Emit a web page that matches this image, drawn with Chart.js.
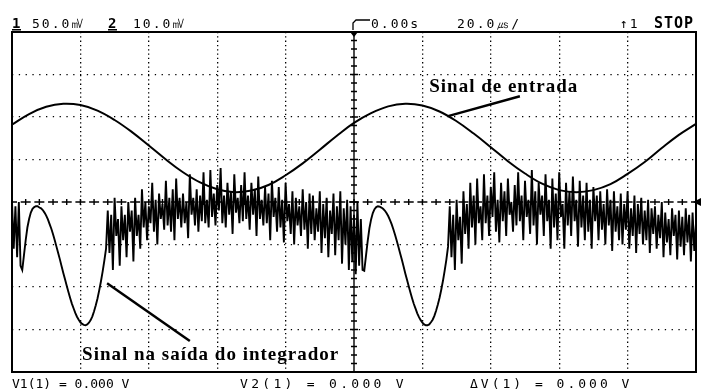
<!DOCTYPE html>
<html>
<head>
<meta charset="utf-8">
<script src="https://cdn.jsdelivr.net/npm/chart.js@4/dist/chart.umd.min.js"></script>
<style>
  html, body { margin: 0; padding: 0; background: #fff; }
  canvas { display: block; }
</style>
</head>
<body>
<canvas id="scope" width="704" height="390"></canvas>
<script>
/* scope capture: integrator input (ch1) and output (ch2), 20 us/div, values in divisions */

var T_START = -100;   // us at left edge
var T_END = 100;      // us at right edge
var DIV_US = 20;      // us per division
var CH1_DT = 5;       // us between ch1 samples
var CH2_DT = 0.5;     // us between ch2 samples

/* ch1 - Sinal de entrada */
var ch1 = [
  1.82, 2.07, 2.24, 2.31, 2.28, 2.15, 1.93, 1.65, 1.33, 1.00,
  0.70, 0.46, 0.30, 0.23, 0.27, 0.40, 0.63, 0.91, 1.23, 1.56,
  1.86, 2.09, 2.25, 2.31, 2.27, 2.13, 1.90, 1.61, 1.29, 0.96,
  0.67, 0.43, 0.28, 0.23, 0.28, 0.42, 0.66, 0.94, 1.27, 1.58,
  1.84
];

/* ch2 - Sinal na saida do integrador */
var ch2 = [
  /* leading noise */
  0.0, -1.1, -0.1, -1.3, 0.0, -1.5,
  /* first clean swing */
  -1.6, -1.25, -0.9, -0.6, -0.4, -0.25, -0.16, -0.12, -0.1, -0.1,
  -0.13, -0.15, -0.19, -0.25, -0.32, -0.41, -0.52, -0.63, -0.76, -0.9,
  -1.05, -1.2, -1.35, -1.51, -1.67, -1.82, -1.97, -2.12, -2.26, -2.39,
  -2.5, -2.61, -2.7, -2.77, -2.83, -2.87, -2.89, -2.9, -2.88, -2.84,
  -2.78, -2.69, -2.57, -2.43, -2.27, -2.08, -1.87, -1.64, -1.38, -1.1,
  /* first noisy stretch */
  -0.2, -1.2, -0.3, -1.6, 0.1, -0.8, -0.4, -1.5, -0.1, -0.9, -0.3, -1.3, 0.0, -0.7, -0.2, -1.4, 0.1, -0.8, -0.3, -1.1,
  0.3, -0.6, 0.0, -0.9, -0.1, -0.5, 0.45, -0.7, 0.05, -1.0, 0.2, -0.4, -0.05, -0.65, 0.5, -0.55, 0.1, -0.7, 0.3, -0.9,
  0.55, -0.4, 0.1, -0.6, 0.2, -0.5, 0.0, -0.85, 0.65, -0.3, 0.1, -0.55, 0.3, -0.7, 0.15, -0.45, 0.7, -0.5, 0.05, -0.6,
  0.75, -0.35, 0.2, -0.55, 0.4, -0.2, 0.8, -0.5, 0.15, -0.6, 0.45, -0.3, 0.25, -0.75, 0.65, -0.25, 0.1, -0.5, 0.4, -0.45,
  0.7, -0.4, 0.15, -0.65, 0.45, -0.3, 0.3, -0.8, 0.6, -0.4, 0.05, -0.55, 0.35, -0.5, 0.2, -0.9, 0.5, -0.35, 0.1, -0.7,
  0.35, -0.6, 0.05, -0.95, 0.45, -0.45, -0.05, -0.75, 0.25, -1.0, 0.1, -0.55, -0.1, -0.8, 0.3, -0.65, 0.0, -1.1, 0.2, -0.75,
  0.15, -0.9, -0.15, -0.7, 0.25, -1.2, -0.05, -0.85, 0.1, -1.3, -0.2, -0.75, 0.2, -1.25, -0.1, -0.9, 0.25, -1.45, -0.15, -1.0, 0.05, -1.6, -0.1, -1.4,
  /* noise at trigger point */
  -0.3, -1.7, 0.0, -1.5, -0.4, -1.6,
  /* second clean swing */
  -1.62, -1.27, -0.92, -0.62, -0.41, -0.26, -0.17, -0.12, -0.1, -0.11,
  -0.13, -0.16, -0.2, -0.26, -0.33, -0.42, -0.52, -0.64, -0.77, -0.91,
  -1.06, -1.21, -1.36, -1.52, -1.68, -1.83, -1.98, -2.13, -2.27, -2.4,
  -2.51, -2.62, -2.71, -2.78, -2.84, -2.88, -2.9, -2.9, -2.88, -2.83,
  -2.77, -2.68, -2.56, -2.42, -2.26, -2.07, -1.86, -1.62, -1.36, -1.05,
  /* second noisy stretch */
  -0.1, -1.3, -0.3, -1.6, 0.05, -0.9, -0.35, -1.45, 0.25, -0.75, -0.05, -1.1, 0.45, -0.6, 0.15, -1.0, 0.55, -0.5, -0.1, -0.9,
  0.65, -0.5, 0.15, -0.8, 0.35, -0.35, 0.7, -0.7, 0.05, -0.95, 0.45, -0.45, 0.25, -0.8, 0.55, -0.3, 0.0, -0.7, 0.4, -0.55,
  0.7, -0.45, 0.15, -0.9, 0.5, -0.35, 0.05, -0.75, 0.75, -0.55, 0.25, -1.0, 0.45, -0.3, 0.15, -0.8, 0.65, -0.45, 0.05, -1.1,
  0.55, -0.6, 0.2, -0.9, 0.7, -0.35, -0.05, -1.1, 0.45, -0.55, 0.25, -0.8, 0.6, -0.45, 0.05, -1.05, 0.5, -0.6, 0.15, -0.9,
  0.45, -0.7, 0.05, -1.1, 0.35, -0.45, 0.15, -0.9, 0.25, -0.65, -0.05, -1.0, 0.3, -0.55, 0.05, -1.15, 0.25, -0.7, -0.1, -0.9,
  0.2, -1.0, -0.05, -0.65, 0.25, -1.1, -0.15, -0.8, 0.15, -1.2, -0.05, -0.75, 0.1, -1.0, -0.2, -0.9, 0.05, -1.2, -0.15, -0.75,
  -0.1, -1.1, -0.3, -0.85, 0.0, -1.3, -0.25, -0.95, -0.4, -1.25, -0.15, -0.8, -0.3, -1.35, -0.2, -1.05, -0.35, -1.25, -0.15, -0.95, -0.3, -1.4, -0.25, -1.15, -0.5
];

/* screen readouts */
var topLeft = [['1', '50.0\u33B7'], ['2', '10.0\u33B7']];
var topMid = ['0.00s', '20.0\u33B2/'];
var topRight = ['\u21911', 'STOP'];
var bottomRow = ['V1(1) = 0.000 V', 'V2(1) = 0.000 V', '\u0394V(1) = 0.000 V'];

/* callouts: text anchor and pointer, in (us, div) */
var inLabel = { text: 'Sinal de entrada', t: 22, v: 2.59, from: [27.5, 2.02], to: [48.5, 2.49] };
var outLabel = { text: 'Sinal na saída do integrador', t: -79.5, v: -3.71, from: [-72.2, -1.91], to: [-48, -3.27] };

function series(values, dt) {
  return values.map(function (v, i) { return { x: T_START + i * dt, y: v }; });
}

var scopeDecor = {
  id: 'scopeDecor',
  beforeDatasetsDraw: function (chart) {
    var ctx = chart.ctx, a = chart.chartArea;
    var xs = chart.scales.x, ys = chart.scales.y;
    var cx = xs.getPixelForValue(0), cy = ys.getPixelForValue(0);
    var minorX = xs.getPixelForValue(DIV_US / 5) - xs.getPixelForValue(0);
    ctx.save();
    ctx.strokeStyle = '#000';

    // horizontal centre axis, broken line with ticks
    ctx.lineWidth = 1.4;
    ctx.setLineDash([10, minorX - 10]);
    ctx.lineDashOffset = 5;
    ctx.beginPath(); ctx.moveTo(a.left, cy); ctx.lineTo(a.right, cy); ctx.stroke();
    ctx.setLineDash([]);
    ctx.beginPath();
    for (var i = 0; i <= 50; i++) {
      var px = xs.getPixelForValue(T_START + i * DIV_US / 5);
      ctx.moveTo(px, cy - 3); ctx.lineTo(px, cy + 3);
    }
    ctx.stroke();

    // vertical centre axis with ticks
    ctx.beginPath(); ctx.moveTo(cx, a.top); ctx.lineTo(cx, a.bottom); ctx.stroke();
    ctx.beginPath();
    for (var j = 0; j <= 40; j++) {
      var py = ys.getPixelForValue(-4 + j * 0.2);
      var w = (j % 5 === 0) ? 4 : 3;
      ctx.moveTo(cx - w, py); ctx.lineTo(cx + w, py);
    }
    ctx.stroke();

    // frame
    ctx.lineWidth = 2;
    ctx.strokeRect(a.left, a.top, a.right - a.left, a.bottom - a.top);

    // trigger and ground markers
    ctx.fillStyle = '#000';
    ctx.beginPath(); ctx.moveTo(cx - 4, a.top); ctx.lineTo(cx + 4, a.top); ctx.lineTo(cx, a.top + 5); ctx.fill();
    ctx.beginPath(); ctx.moveTo(a.right - 3, cy); ctx.lineTo(a.right + 5, cy - 4); ctx.lineTo(a.right + 5, cy + 4); ctx.fill();

    // trigger delay hook above the screen
    ctx.lineWidth = 1.3;
    ctx.beginPath(); ctx.moveTo(cx - 1, a.top - 2); ctx.lineTo(cx - 1, 23); ctx.lineTo(cx + 2, 20); ctx.lineTo(cx + 16, 20); ctx.stroke();
    ctx.restore();
  },
  afterDraw: function (chart) {
    var ctx = chart.ctx;
    var xs = chart.scales.x, ys = chart.scales.y;
    ctx.save();
    ctx.fillStyle = '#000';
    ctx.strokeStyle = '#000';
    ctx.textBaseline = 'alphabetic';

    // readouts
    var tx = [[12, 32], [108, 133]];
    topLeft.forEach(function (p, k) {
      ctx.letterSpacing = '0px';
      ctx.font = 'bold 14px "DejaVu Sans Mono", monospace';
      ctx.fillText(p[0], tx[k][0], 28);
      ctx.fillRect(tx[k][0], 29, 9, 1.5);
      ctx.letterSpacing = '2px';
      ctx.font = '13px "DejaVu Sans Mono", monospace';
      ctx.fillText(p[1], tx[k][1], 28);
    });
    ctx.fillText(topMid[0], 371, 28);
    ctx.fillText(topMid[1], 457, 28);
    ctx.fillText(topRight[0], 620, 28);
    ctx.font = 'bold 15px "DejaVu Sans Mono", monospace';
    ctx.letterSpacing = '1px';
    ctx.fillText(topRight[1], 654, 28);

    ctx.font = '13px "DejaVu Sans Mono", monospace';
    ctx.letterSpacing = '0px';
    ctx.fillText(bottomRow[0], 12, 388);
    ctx.letterSpacing = '3.3px';
    ctx.fillText(bottomRow[1], 240, 388);
    ctx.letterSpacing = '3px';
    ctx.fillText(bottomRow[2], 470, 388);

    // callouts
    ctx.letterSpacing = '1px';
    ctx.font = 'bold 19px "Liberation Serif", serif';
    [inLabel, outLabel].forEach(function (l) {
      ctx.fillText(l.text, xs.getPixelForValue(l.t), ys.getPixelForValue(l.v));
      ctx.lineWidth = 2.5;
      ctx.beginPath();
      ctx.moveTo(xs.getPixelForValue(l.from[0]), ys.getPixelForValue(l.from[1]));
      ctx.lineTo(xs.getPixelForValue(l.to[0]), ys.getPixelForValue(l.to[1]));
      ctx.stroke();
    });
    ctx.restore();
  }
};

function gridColor(c) {
  var v = c.tick.value;
  return (v === 0 || c.index === 0 || c.index === c.scale.ticks.length - 1) ? 'rgba(0,0,0,0)' : '#000';
}

new Chart(document.getElementById('scope'), {
  type: 'line',
  data: {
    datasets: [
      { label: 'ch1', data: series(ch1, CH1_DT), borderColor: '#000', borderWidth: 2, pointRadius: 0, tension: 0.4 },
      { label: 'ch2', data: series(ch2, CH2_DT), borderColor: '#000', borderWidth: 1.9, pointRadius: 0, tension: 0 }
    ]
  },
  options: {
    responsive: false,
    animation: false,
    events: [],
    layout: { padding: { left: 12, right: 8, top: 32, bottom: 18 } },
    plugins: { legend: { display: false }, tooltip: { enabled: false } },
    scales: {
      x: {
        type: 'linear', min: T_START, max: T_END,
        ticks: { display: false, stepSize: DIV_US },
        grid: { color: gridColor, lineWidth: 1.3, drawTicks: false },
        border: { display: false, dash: [1.3, 3] }
      },
      y: {
        type: 'linear', min: -4, max: 4,
        ticks: { display: false, stepSize: 1 },
        grid: { color: gridColor, lineWidth: 1.3, drawTicks: false },
        border: { display: false, dash: [1.3, 5.5] }
      }
    }
  },
  plugins: [scopeDecor]
});
</script>
</body>
</html>
